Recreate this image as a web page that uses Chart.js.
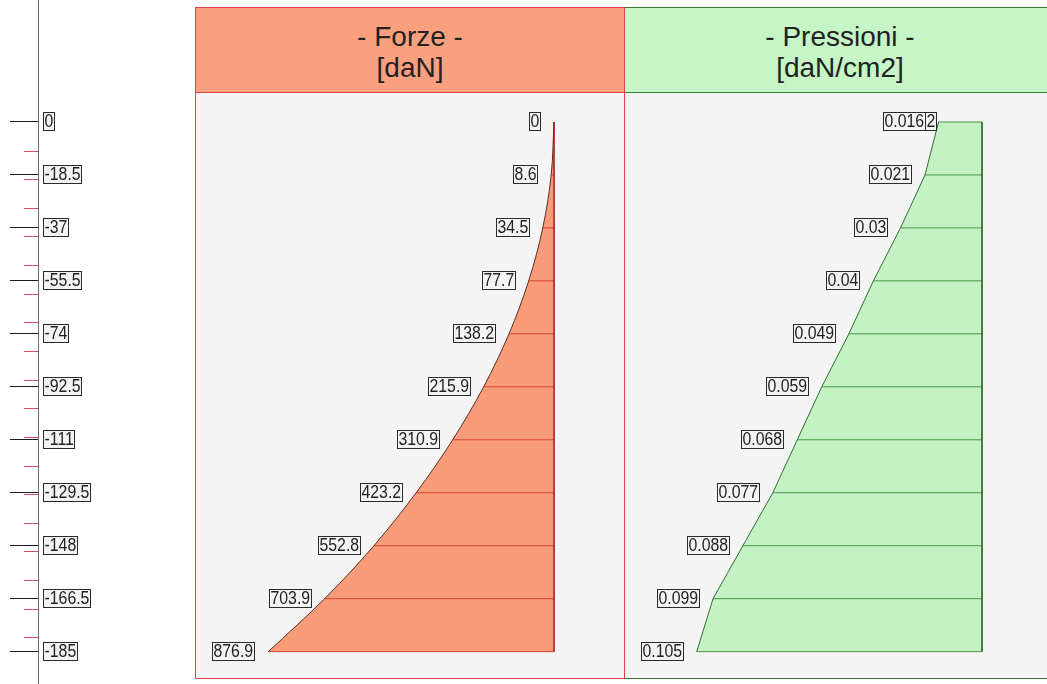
<!DOCTYPE html>
<html>
<head>
<meta charset="utf-8">
<script src="https://cdn.jsdelivr.net/npm/chart.js@4/dist/chart.umd.min.js"></script>
<style>
  html, body { margin: 0; padding: 0; background: #ffffff; }
  #page { position: relative; width: 1047px; height: 684px; overflow: hidden;
          font-family: "Liberation Sans", Arial, sans-serif; }
  .panel { position: absolute; top: 7px; height: 672px; width: 430px; box-sizing: border-box; }
  #forzePanel { left: 195px; border: 1px solid #e0444a; }
  #pressPanel { left: 625px; border-top: 1px solid #357a35; border-bottom: 1px solid #357a35; }
  .head { position: absolute; left: 0; right: 0; top: 0; height: 85px; box-sizing: border-box;
          padding-top: 13px; text-align: center; font-size: 28px; line-height: 31px; color: #222; }
  #forzePanel .head { background: #faa07f; border-bottom: 1px solid #e0444a; }
  #pressPanel .head { background: #c6f5c6; border-bottom: 1px solid #357a35; }
  .body { position: absolute; left: 0; right: 0; top: 85px; bottom: 0; background: #f4f4f4; }
  canvas { position: absolute; top: 0; }
  #axisChart { left: 0; }
  #forzeChart { left: 196px; }
  #pressChart { left: 625px; }
</style>
</head>
<body>
<div id="page">
  <div class="panel" id="forzePanel"><div class="head"></div><div class="body"></div></div>
  <div class="panel" id="pressPanel"><div class="head"></div><div class="body"></div></div>
  <canvas id="axisChart" width="135" height="684"></canvas>
  <canvas id="forzeChart" width="428" height="684"></canvas>
  <canvas id="pressChart" width="422" height="684"></canvas>
</div>
<script>
// Depth levels (cm) and their labels
const depthLevels = [0, -18.5, -37, -55.5, -74, -92.5, -111, -129.5, -148, -166.5, -185];
const depthLabels = ['0', '-18.5', '-37', '-55.5', '-74', '-92.5', '-111', '-129.5', '-148', '-166.5', '-185'];
// Minor marks along the depth axis
const minorDepths = [-10, -20, -30, -40, -50, -60, -70, -80, -90, -100, -110, -120, -130, -140, -150, -160, -170, -180];

// Forces [daN] at each depth level
const forces = [0, 8.6, 34.5, 77.7, 138.2, 215.9, 310.9, 423.2, 552.8, 703.9, 876.9];
const forceLabels = ['0', '8.6', '34.5', '77.7', '138.2', '215.9', '310.9', '423.2', '552.8', '703.9', '876.9'];

// Pressures [daN/cm2] at each depth level
const pressures = [0.016, 0.021, 0.03, 0.04, 0.049, 0.059, 0.068, 0.077, 0.088, 0.099, 0.105];
const pressureLabels = ['0.016', '0.021', '0.03', '0.04', '0.049', '0.059', '0.068', '0.077', '0.088', '0.099', '0.105'];
const pressureTopNote = '2';

// Panel titles
const forzeTitle = ['- Forze -', '[daN]'];
const pressioniTitle = ['- Pressioni -', '[daN/cm2]'];

// Scale limits shared by the canvases
const DEPTH_MIN = -196.3, DEPTH_MAX = 42.6;
const FORCE_MIN = -214.8, FORCE_MAX = 1098.8;
const PRESS_MIN = -0.0239, PRESS_MAX = 0.1314;

const LABEL_FONT = '18px "Liberation Sans", Arial, sans-serif';
const LABEL_SQUEEZE = 0.88;
const LABEL_GAP = 13;

document.querySelector('#forzePanel .head').innerHTML = forzeTitle.join('<br>');
document.querySelector('#pressPanel .head').innerHTML = pressioniTitle.join('<br>');

function drawBoxLabel(ctx, text, x, y, align) {
  ctx.save();
  ctx.font = LABEL_FONT;
  const w = Math.round(ctx.measureText(text).width * LABEL_SQUEEZE) + 3;
  const h = 19;
  const left = Math.round(align === 'right' ? x - w : x);
  const top = Math.round(y - h / 2);
  ctx.fillStyle = '#f3f3f3';
  ctx.fillRect(left, top, w, h);
  ctx.strokeStyle = '#2a2a2a';
  ctx.lineWidth = 1;
  ctx.strokeRect(left + 0.5, top + 0.5, w - 1, h - 1);
  ctx.translate(left + 1.5, top + h / 2 + 1);
  ctx.scale(LABEL_SQUEEZE, 1);
  ctx.fillStyle = '#222';
  ctx.textBaseline = 'middle';
  ctx.textAlign = 'left';
  ctx.fillText(text, 0, 0);
  ctx.restore();
  return { left: left, right: left + w };
}

const depthScale = { type: 'linear', min: DEPTH_MIN, max: DEPTH_MAX, display: false };
const baseOptions = {
  responsive: false,
  animation: false,
  devicePixelRatio: 1,
  layout: { padding: 0 },
  events: [],
  plugins: { legend: { display: false }, tooltip: { enabled: false }, filler: { drawTime: 'beforeDatasetsDraw' } }
};

// ---- Depth axis ----
const axisDecor = {
  id: 'axisDecor',
  afterDraw(chart) {
    const { ctx, chartArea, scales } = chart;
    const y = scales.y;
    ctx.save();
    ctx.strokeStyle = '#d0505a';
    ctx.lineWidth = 1;
    ctx.beginPath();
    minorDepths.forEach(d => {
      const py = Math.round(y.getPixelForValue(d)) + 0.5;
      ctx.moveTo(chartArea.right - 14, py);
      ctx.lineTo(chartArea.right, py);
    });
    ctx.stroke();
    ctx.restore();
    depthLevels.forEach((d, i) => {
      drawBoxLabel(ctx, depthLabels[i], chartArea.right + 5, y.getPixelForValue(d), 'left');
    });
  }
};

new Chart(document.getElementById('axisChart'), {
  type: 'line',
  data: { datasets: [] },
  options: Object.assign({}, baseOptions, {
    layout: { padding: { left: 10, right: 0, top: 0, bottom: 0 } },
    scales: {
      x: { type: 'linear', display: false },
      y: {
        type: 'linear', position: 'right', min: DEPTH_MIN, max: DEPTH_MAX,
        afterBuildTicks: s => { s.ticks = depthLevels.map(v => ({ value: v })); },
        afterFit: s => { s.width = 97; },
        ticks: { display: false },
        grid: { color: '#1a1a1a', lineWidth: 1, drawTicks: false },
        border: { display: true, color: '#6a6a6a', width: 1 }
      }
    }
  }),
  plugins: [axisDecor]
});

// ---- Diagram builder for one panel ----
function profileChart(canvasId, values, labels, opts) {
  const profile = values.map((v, i) => ({ x: v, y: depthLevels[i] }));
  const levelSets = values.map((v, i) => ({
    data: [{ x: 0, y: depthLevels[i] }, { x: v, y: depthLevels[i] }],
    borderColor: opts.levelColor, borderWidth: 1, pointRadius: 0, fill: false, order: 2
  }));
  const baseline = {
    data: [{ x: 0, y: depthLevels[0] }, { x: 0, y: depthLevels[depthLevels.length - 1] }],
    borderColor: opts.baseColor, borderWidth: 1, pointRadius: 0, fill: false, order: 1
  };
  const area = {
    data: profile,
    borderColor: opts.edgeColor, borderWidth: 1, backgroundColor: opts.fillColor,
    fill: 'origin', pointRadius: 0, order: 0,
    tension: opts.smooth ? 0.4 : 0,
    cubicInterpolationMode: opts.smooth ? 'monotone' : 'default'
  };
  const valueLabels = {
    id: 'valueLabels',
    afterDatasetsDraw(chart) {
      const { ctx, scales } = chart;
      values.forEach((v, i) => {
        const py = scales.y.getPixelForValue(depthLevels[i]);
        const box = drawBoxLabel(ctx, labels[i], scales.x.getPixelForValue(v) - LABEL_GAP, py, 'right');
        if (i === 0 && opts.topNote) drawBoxLabel(ctx, opts.topNote, box.right - 1, py, 'left');
      });
    }
  };
  return new Chart(document.getElementById(canvasId), {
    type: 'line',
    data: { datasets: [area].concat(levelSets, [baseline]) },
    options: Object.assign({}, baseOptions, {
      indexAxis: 'y',
      scales: {
        x: { type: 'linear', reverse: true, min: opts.min, max: opts.max, display: false },
        y: depthScale
      }
    }),
    plugins: [valueLabels]
  });
}

profileChart('forzeChart', forces, forceLabels, {
  min: FORCE_MIN, max: FORCE_MAX, smooth: true,
  fillColor: '#f79b78', edgeColor: '#5a2e24', levelColor: '#d4462c', baseColor: '#b8262c'
});

profileChart('pressChart', pressures, pressureLabels, {
  min: PRESS_MIN, max: PRESS_MAX, smooth: false, topNote: pressureTopNote,
  fillColor: '#c4f2c4', edgeColor: '#2f6e2f', levelColor: '#4a964a', baseColor: '#2f6e2f'
});
</script>
</body>
</html>
